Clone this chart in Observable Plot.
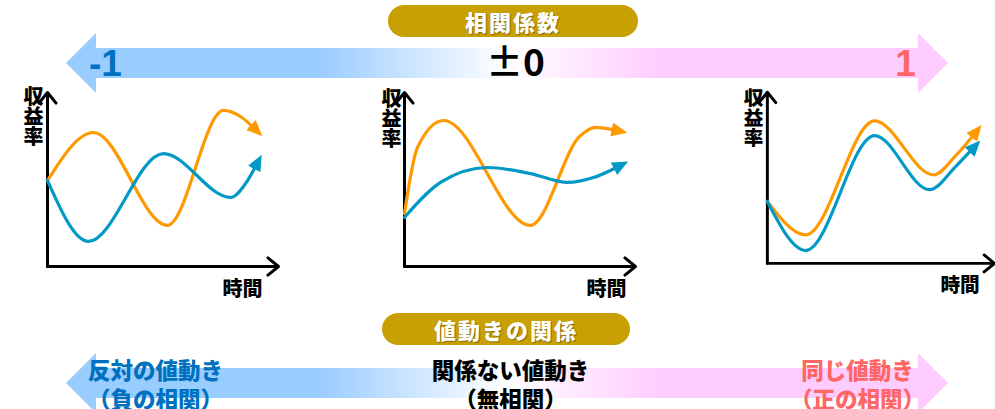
<!DOCTYPE html>
<html lang="ja">
<head>
<meta charset="utf-8">
<script src="https://cdn.jsdelivr.net/npm/d3@7"></script>
<script src="https://cdn.jsdelivr.net/npm/@observablehq/plot@0.6"></script>
<style>
  html, body { margin: 0; padding: 0; background: #fff; overflow: hidden; }
  #root { position: relative; width: 995px; height: 409px; overflow: hidden; font-family: "Noto Sans CJK JP", "Noto Sans", sans-serif; }
  .layer { position: absolute; }
  .banner { position: absolute; height: 32px; border-radius: 16px; background: #C9A003; color: #fff;
            font-weight: 900; font-size: 22px; line-height: 32px; text-align: center; letter-spacing: 2px;
            text-shadow: 1px 1px 1px rgba(0,0,0,0.35); z-index: 5; }
</style>
</head>
<body>
<div id="root"></div>
<script>
// ---- Correlation coefficient scale ----
const corrTicks = [-1, 0, 1];
const corrTickLabels = ["-1", "±0", "1"];
const corrTickColors = ["#0070C0", "#000000", "#FF6666"];
const corrExtent = [-1.0975, 1.1075];

// ---- How the two prices move relative to each other ----
const relationLabels = ["反対の値動き\n（負の相関）", "関係ない値動き\n（無相関）", "同じ値動き\n（正の相関）"];
const relationColors = ["#0070C0", "#000000", "#FF6666"];

// ---- Section titles and axis labels ----
const topTitle = "相関係数";
const bottomTitle = "値動きの関係";
const yAxisLabel = ["収", "益", "率"];
const xAxisLabel = "時間";

// ---- Return curves (time, return) for each example ----
const negOrangeT = [0, 1.99, 5.19, 7.62, 8.35, 8.96];
const negOrangeR = [4.94, 7.70, 2.36, 8.97, 8.62, 7.93];
const negBlueT   = [0, 1.77, 5.02, 7.92, 8.66, 9.05];
const negBlueR   = [4.94, 1.44, 6.49, 3.97, 4.94, 5.86];

const zeroOrangeT = [0, 0.56, 1.69, 5.45, 7.62, 8.27, 9.18];
const zeroOrangeR = [3.05, 6.84, 8.39, 2.36, 7.53, 7.99, 7.82];
const zeroBlueT   = [0, 1.56, 3.59, 5.45, 7.06, 8.18, 9.26];
const zeroBlueR   = [2.82, 4.83, 5.69, 5.34, 4.83, 5.11, 5.75];

const posOrangeT = [0, 1.69, 4.72, 7.32, 8.31, 9.13];
const posOrangeR = [3.62, 1.67, 8.33, 5.17, 6.32, 7.59];
const posBlueT   = [0, 1.69, 4.72, 7.14, 8.31, 9.05];
const posBlueR   = [3.62, 0.75, 7.47, 4.31, 5.69, 6.72];

// Axis arrows span the whole time / return domain
const axisArrows = [
  {x1: 0, y1: 0, x2: 10, y2: 0},
  {x1: 0, y1: 0, x2: 0, y2: 10}
];

const ORANGE = "#FF9900";
const BLUE = "#0399C6";
const FONT = '"Noto Sans CJK JP", "Noto Sans", sans-serif';
const gradientStops = [[0, "#99CCFF"], [0.285, "#99CCFF"], [0.5, "#FFFFFF"], [0.675, "#FFCCFF"], [1, "#FFCCFF"]];

const NS = "http://www.w3.org/2000/svg";
let uid = 0;
function el(tag, attrs = {}) {
  const e = document.createElementNS(NS, tag);
  for (const k in attrs) e.setAttribute(k, attrs[k]);
  return e;
}
const rows = (t, r) => t.map((v, i) => ({t: v, r: r[i]}));

// Wide double-headed arrow filled with a blue → white → pink gradient, laid on the correlation scale
function correlationArrow(extent) {
  return (index, scales, values, dimensions) => {
    const x = scales.x;
    const {height} = dimensions;
    const id = `corr-grad-${uid++}`;
    const g = el("g");
    const defs = el("defs");
    const x0 = x(extent[0]), x1 = x(extent[1]);
    const grad = el("linearGradient", {id, gradientUnits: "userSpaceOnUse", x1: x0, x2: x1, y1: 0, y2: 0});
    for (const [offset, color] of gradientStops) grad.appendChild(el("stop", {offset, "stop-color": color}));
    defs.appendChild(grad);
    g.appendChild(defs);
    const cy = height / 2, head = 30, wing = 30, body = 15;
    const pts = [[x0, cy], [x0 + head, cy - wing], [x0 + head, cy - body], [x1 - head, cy - body],
                 [x1 - head, cy - wing], [x1, cy], [x1 - head, cy + wing], [x1 - head, cy + body],
                 [x0 + head, cy + body], [x0 + head, cy + wing]];
    g.appendChild(el("polygon", {points: pts.map(p => p.join(",")).join(" "), fill: `url(#${id})`}));
    return g;
  };
}

// Filled triangular heads at the end of each return curve
function addArrowheads(svg) {
  const defs = el("defs");
  svg.insertBefore(defs, svg.firstChild);
  svg.querySelectorAll('g[aria-label="line"]').forEach(g => {
    const color = g.getAttribute("stroke");
    const id = `curve-head-${uid++}`;
    const m = el("marker", {id, viewBox: "0 0 16 14", refX: 5, refY: 7, markerWidth: 16, markerHeight: 14,
                            markerUnits: "userSpaceOnUse", orient: "auto"});
    m.appendChild(el("path", {d: "M0,0L16,7L0,14Z", fill: color}));
    defs.appendChild(m);
    g.querySelectorAll("path").forEach(p => p.setAttribute("marker-end", `url(#${id})`));
  });
}

const root = document.getElementById("root");
function place(node, left, top) {
  const wrap = document.createElement("div");
  wrap.className = "layer";
  wrap.style.left = left + "px";
  wrap.style.top = top + "px";
  wrap.appendChild(node);
  root.appendChild(wrap);
}
function banner(text, left, top, width) {
  const b = document.createElement("div");
  b.className = "banner";
  b.textContent = text;
  b.style.left = left + "px";
  b.style.top = top + "px";
  b.style.width = width + "px";
  root.appendChild(b);
}

const bandStyle = {background: "transparent", overflow: "visible", fontFamily: FONT};

// ---- Top: correlation coefficient arrow ----
const topBand = Plot.plot({
  width: 995, height: 100,
  marginLeft: 105, marginRight: 90, marginTop: 0, marginBottom: 0,
  x: {domain: [-1, 1], axis: null},
  style: bandStyle,
  marks: [
    correlationArrow(corrExtent),
    Plot.text(corrTicks.filter((d, i) => i !== 1), {
      x: d => d, text: d => corrTickLabels[corrTicks.indexOf(d)], fill: d => corrTickColors[corrTicks.indexOf(d)],
      fontSize: 37, fontWeight: 700, fontFamily: '"Liberation Sans", Arial, sans-serif', dy: 1
    }),
    Plot.text([corrTicks[1]], {
      x: d => d, text: () => corrTickLabels[1], fill: corrTickColors[1],
      fontSize: 37, fontWeight: 700, dx: 10, dy: 1
    })
  ]
});
place(topBand, 0, 13);
banner(topTitle, 388, 5, 250);

// ---- Middle: three return-vs-time sketches ----
function panel(orange, blue, opts) {
  const {width, marginLeft, marginRight, yLabelDx, yLabelDy, xLabelDx} = opts;
  const svg = Plot.plot({
    width, height: 230,
    marginTop: 12, marginBottom: 44, marginLeft, marginRight,
    x: {domain: [0, 10], axis: null},
    y: {domain: [0, 10], axis: null},
    style: bandStyle,
    marks: [
      Plot.arrow(axisArrows, {x1: "x1", y1: "y1", x2: "x2", y2: "y2", stroke: "#000", strokeWidth: 3,
                              headAngle: 78, headLength: 6.8}),
      Plot.line(orange, {x: "t", y: "r", stroke: ORANGE, strokeWidth: 3.2, curve: "monotone-x"}),
      Plot.line(blue, {x: "t", y: "r", stroke: BLUE, strokeWidth: 3.2, curve: "monotone-x"}),
      // vertical label: one character per row, stacked down from the top of the return axis
      ...yAxisLabel.map((ch, i) => Plot.text([ch], {
        frameAnchor: "top-left", text: d => d, lineAnchor: "top",
        fontSize: 20, fontWeight: 900, fill: "#000", dx: yLabelDx, dy: yLabelDy + i * 20
      })),
      Plot.text([xAxisLabel], {
        frameAnchor: "bottom-right", text: d => d, textAnchor: "end", lineAnchor: "middle",
        fontSize: 20, fontWeight: 900, fill: "#000", dx: xLabelDx, dy: 23
      })
    ]
  });
  addArrowheads(svg);
  return svg;
}

place(panel(rows(negOrangeT, negOrangeR), rows(negBlueT, negBlueR),
  {width: 290, marginLeft: 47, marginRight: 12, yLabelDx: -24, yLabelDy: -3, xLabelDx: -16}), 0, 80);
place(panel(rows(zeroOrangeT, zeroOrangeR), rows(zeroBlueT, zeroBlueR),
  {width: 310, marginLeft: 64, marginRight: 15, yLabelDx: -23, yLabelDy: -1, xLabelDx: -9}), 340, 80);
place(panel(rows(posOrangeT, posOrangeR), rows(posBlueT, posBlueR),
  {width: 300, marginLeft: 68, marginRight: 1, yLabelDx: -24, yLabelDy: -1, xLabelDx: -15}), 700, 80);

// ---- Bottom: how the prices move ----
const relationDx = [50, 5, -48];
const bottomBand = Plot.plot({
  width: 995, height: 76,
  marginLeft: 105, marginRight: 90, marginTop: 0, marginBottom: 0,
  x: {domain: [-1, 1], axis: null},
  style: bandStyle,
  marks: [
    correlationArrow(corrExtent),
    ...corrTicks.map((c, i) => Plot.text([c], {
      x: d => d, text: () => relationLabels[i], fill: relationColors[i],
      fontSize: 22.5, fontWeight: 900, lineHeight: 1.28, lineAnchor: "middle",
      dx: relationDx[i], dy: 1
    }))
  ]
});
place(bottomBand, 0, 345);
banner(bottomTitle, 382, 313, 248);
</script>
</body>
</html>
